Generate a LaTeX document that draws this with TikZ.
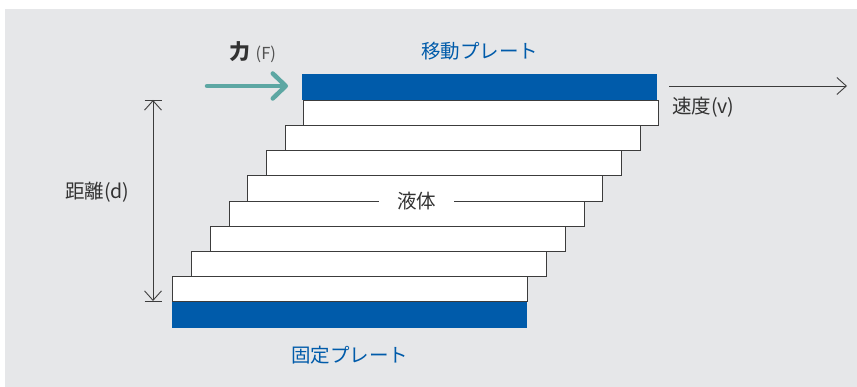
\documentclass[tikz,border=0pt]{standalone}
\usepackage{fontspec}
\setmainfont{Noto Sans CJK JP}
\usetikzlibrary{arrows.meta}
\definecolor{bgray}{RGB}{230,231,233}
\definecolor{plateblue}{RGB}{0,91,170}
\definecolor{tealc}{RGB}{93,167,163}
\definecolor{txt}{RGB}{50,50,50}
\definecolor{edge}{RGB}{60,60,60}
\tikzset{
  layer/.style={draw=edge, line width=1pt, fill=white, inner sep=0pt, minimum width=355pt, minimum height=25.1pt, anchor=north west},
  plate/.style={fill=plateblue, inner sep=0pt, minimum width=355pt, anchor=north west},
  lbl/.style={inner sep=0pt, text=txt, font=\fontsize{19.5}{20}\selectfont},
  bluelbl/.style={lbl, text=plateblue},
  dimline/.style={draw=edge, line width=0.9pt},
  barbtip/.tip={Straight Barb[length=9.5pt, width=17pt]},
}
\begin{document}
\begin{tikzpicture}[x=1pt, y=-1pt]
\useasboundingbox (0,0) rectangle (857,387);
\fill[bgray] (5,9) rectangle (857,387);

% plates
\node[plate, minimum height=26pt] (move) at (302,74) {};
\node[plate, minimum height=27pt] (fixed) at (172,301) {};

% liquid layers (bottom to top)
\node[layer] (L8) at (172.3,275.9) {};
\node[layer] (L7) at (191.0,250.8) {};
\node[layer] (L6) at (209.8,225.7) {};
\node[layer] (L5) at (228.5,200.6) {};
\node[layer] (L4) at (247.3,175.5) {};
\node[layer] (L3) at (266.0,150.4) {};
\node[layer] (L2) at (284.8,125.3) {};
\node[layer] (L1) at (302.5,100.2) {};

% liquid label
\node[lbl, fill=white, inner xsep=18pt, inner ysep=1pt] (liq) at (416.5,201) {液体};

% labels
\node[bluelbl] (movelbl) at (479.5,51.5) {移動プレート};
\node[bluelbl] (fixedlbl) at (349.5,355.5) {固定プレート};
\node[lbl, anchor=west] (vel) at (672,107.5) {速度(v)};
\node[lbl, anchor=west] (dist) at (65,192) {距離(d)};
\node[lbl, font=\fontsize{21}{22}\selectfont\bfseries] (forcek) at (239.5,52) {力};
\node[lbl, anchor=west, font=\fontsize{16.5}{17}\selectfont, text=txt!85] (forcef) at (255.5,54.5) {(F)};

% force arrow
\coordinate (fs) at (207,86);
\coordinate (fe) at (288,86);
\draw[tealc, line width=4.5pt, line cap=round, -{Straight Barb[length=13pt, width=25pt, round]}] (fs) -- (fe);

% velocity arrow
\coordinate (vs) at (669,86);
\coordinate (ve) at (847,86);
\draw[dimline, -barbtip] (vs) -- (ve);

% distance dimension
\coordinate (dt) at (153,100);
\coordinate (db) at (153,301);
\draw[dimline, barbtip-barbtip] (dt) -- (db);
\draw[dimline] ([xshift=-8.5pt]dt) -- ([xshift=8.5pt]dt);
\draw[dimline] ([xshift=-8.5pt]db) -- ([xshift=8.5pt]db);
\end{tikzpicture}
\end{document}
